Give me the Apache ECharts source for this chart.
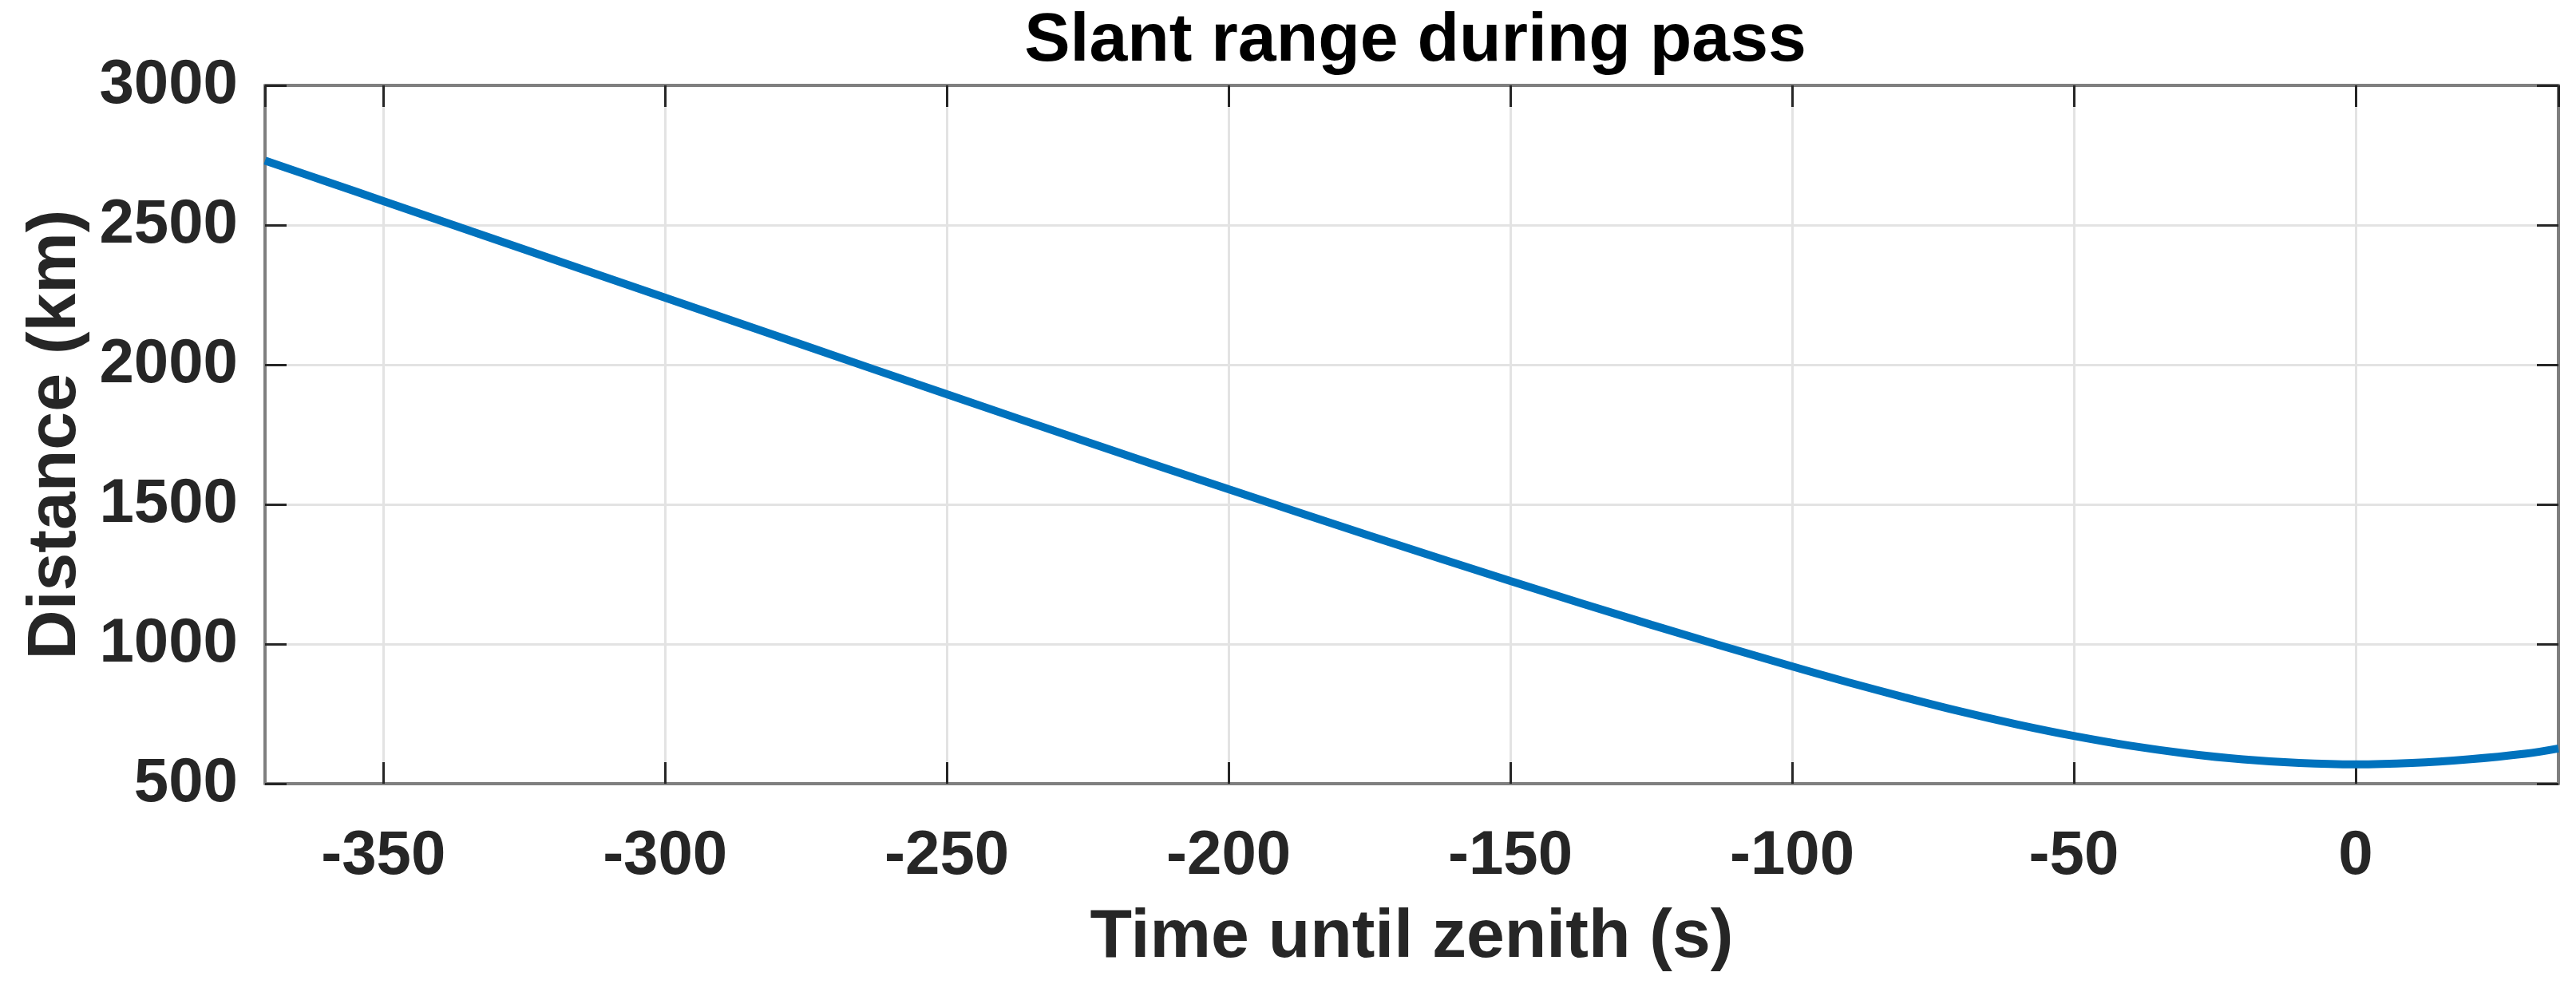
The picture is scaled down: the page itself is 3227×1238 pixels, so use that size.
<!DOCTYPE html>
<html>
<head>
<meta charset="utf-8">
<script src="https://cdn.jsdelivr.net/npm/echarts@6/dist/echarts.min.js"></script>
<style>
html,body{margin:0;padding:0;background:#fff;}
#chart{width:3227px;height:1238px;}
</style>
</head>
<body>
<div id="chart"></div>
<script>
// Data
const timeSec = [-371, -360, -350, -325, -300, -275, -250, -225, -200, -175, -150, -125, -100, -90, -80, -70, -60, -50, -40, -30, -20, -10, 0, 10, 20, 30, 36];
const distanceKm = [2731, 2655, 2586, 2413, 2240, 2067, 1894, 1723, 1554, 1388, 1226, 1069, 920, 863, 809, 758, 712, 671, 636, 608, 587, 574, 569, 574, 587, 607, 626];
const xRange = [-371, 36];
const yTicks = [500, 1000, 1500, 2000, 2500, 3000];
const titleText = 'Slant range during pass';
const xName = 'Time until zenith (s)';
const yName = 'Distance (km)';

const font = '"Liberation Sans", Arial, Helvetica, sans-serif';
const tickColor = '#262626';
const boxColor = '#7f7f7f';
const gridColor = '#e3e3e3';

const points = timeSec.map((t, i) => [t, distanceKm[i]]);

const chart = echarts.init(document.getElementById('chart'), null, {renderer: 'canvas'});
const fmtX = v => (Math.abs(v % 50) < 1e-9 ? String(v) : '');
const fmtY = v => String(v);

chart.setOption({
  animation: false,
  backgroundColor: '#fff',
  title: {
    text: titleText,
    left: 1768, top: 4, textAlign: 'center',
    textStyle: {fontFamily: font, fontWeight: 'bold', fontSize: 86, color: '#000'}
  },
  grid: {left: 332, right: 22, top: 107, bottom: 256, containLabel: false},
  xAxis: [{
    type: 'value', min: xRange[0], max: xRange[1], splitNumber: 8,
    name: xName, nameLocation: 'middle', nameGap: 150,
    nameTextStyle: {fontFamily: font, fontWeight: 'bold', fontSize: 86, color: tickColor},
    axisLine: {show: true, onZero: false, lineStyle: {color: boxColor, width: 4}},
    axisTick: {show: true, inside: true, length: 27, lineStyle: {color: tickColor, width: 3}},
    axisLabel: {show: true, margin: 52, showMinLabel: false, showMaxLabel: false, formatter: fmtX,
      fontFamily: font, fontWeight: 'bold', fontSize: 78, color: tickColor},
    splitLine: {show: true, lineStyle: {color: gridColor, width: 3}}
  }, {
    type: 'value', position: 'top', min: xRange[0], max: xRange[1], splitNumber: 8,
    axisLine: {show: true, onZero: false, lineStyle: {color: boxColor, width: 4}},
    axisTick: {show: true, inside: true, length: 27, lineStyle: {color: tickColor, width: 3}},
    axisLabel: {show: false},
    splitLine: {show: false}
  }],
  yAxis: [{
    type: 'value', min: yTicks[0], max: yTicks[yTicks.length - 1], interval: 500,
    name: yName, nameLocation: 'middle', nameGap: 214,
    nameTextStyle: {fontFamily: font, fontWeight: 'bold', fontSize: 86, color: tickColor},
    axisLine: {show: true, onZero: false, lineStyle: {color: boxColor, width: 4}},
    axisTick: {show: true, inside: true, length: 27, lineStyle: {color: tickColor, width: 3}},
    axisLabel: {show: true, margin: 34, formatter: fmtY, fontFamily: font, fontWeight: 'bold', fontSize: 78, color: tickColor},
    splitLine: {show: true, lineStyle: {color: gridColor, width: 3}}
  }, {
    type: 'value', position: 'right', min: yTicks[0], max: yTicks[yTicks.length - 1], interval: 500,
    axisLine: {show: true, onZero: false, lineStyle: {color: boxColor, width: 4}},
    axisTick: {show: true, inside: true, length: 27, lineStyle: {color: tickColor, width: 3}},
    axisLabel: {show: false},
    splitLine: {show: false}
  }],
  series: [{
    type: 'line', xAxisIndex: 0, yAxisIndex: 0,
    data: points, smooth: 0.4, showSymbol: false, symbol: 'none',
    lineStyle: {color: '#0072BD', width: 10},
    clip: true
  }]
});
</script>
</body>
</html>
